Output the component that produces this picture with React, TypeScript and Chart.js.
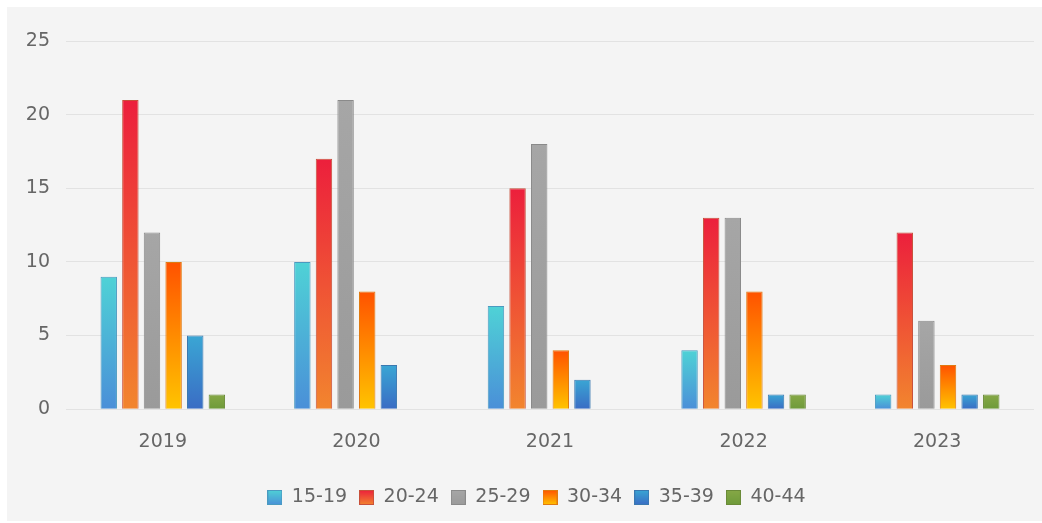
import React, { useEffect, useRef } from "react";
import { Chart, registerables } from "chart.js";

Chart.register(...registerables);

const categories = ["2019", "2020", "2021", "2022", "2023"];
const seriesLabels = ["15-19", "20-24", "25-29", "30-34", "35-39", "40-44"];
const s15_19 = [9, 10, 7, 4, 1];
const s20_24 = [21, 17, 15, 13, 12];
const s25_29 = [12, 21, 18, 13, 6];
const s30_34 = [10, 8, 4, 8, 3];
const s35_39 = [5, 3, 2, 1, 1];
const s40_44 = [1, 0, 0, 1, 1];
const yTicks = [0, 5, 10, 15, 20, 25];

// [top colour, bottom colour, border]
const palette: [string, string, string][] = [
  ["#4fd2d6", "#4a8fd8", "#4a9ac0"],
  ["#ec1f3c", "#f2852e", "#c8503a"],
  ["#a6a6a6", "#9a9a9a", "#8a8a8a"],
  ["#ff5200", "#ffc400", "#e07a10"],
  ["#3aa6d4", "#3a6cc4", "#3a78b0"],
  ["#86a846", "#6e9a3a", "#6a8a38"],
];

const ICON = 15;

function legendIcon(i: number): HTMLCanvasElement {
  const c = document.createElement("canvas");
  c.width = ICON;
  c.height = ICON;
  const ctx = c.getContext("2d")!;
  const g = ctx.createLinearGradient(0, 0, 0, ICON);
  g.addColorStop(0, palette[i][0]);
  g.addColorStop(1, palette[i][1]);
  ctx.fillStyle = g;
  ctx.fillRect(0, 0, ICON, ICON);
  ctx.strokeStyle = palette[i][2];
  ctx.lineWidth = 1;
  ctx.strokeRect(0.5, 0.5, ICON - 1, ICON - 1);
  return c;
}

const legendShift = {
  id: "legendShift",
  afterLayout(chart: any) {
    const l = chart.legend;
    if (l) {
      l.left += 16;
      l.right += 16;
    }
  },
};

export default function App() {
  const ref = useRef<HTMLCanvasElement | null>(null);

  useEffect(() => {
    document.body.style.margin = "0";
    const canvas = ref.current!;
    const allData = [s15_19, s20_24, s25_29, s30_34, s35_39, s40_44];
    const icons = seriesLabels.map((_, i) => legendIcon(i));

    const datasets = seriesLabels.map((label, i) => ({
      label,
      data: allData[i],
      borderColor: palette[i][2],
      borderWidth: 1,
      backgroundColor: (ctx: any) => {
        const chart = ctx.chart;
        const ys = chart.scales?.y;
        if (!chart.chartArea || !ys || ctx.type !== "data") return palette[i][0];
        const v = ctx.raw as number;
        const top = ys.getPixelForValue(v);
        const bottom = ys.getPixelForValue(0);
        if (!(bottom > top)) return palette[i][0];
        const g = chart.ctx.createLinearGradient(0, top, 0, bottom);
        g.addColorStop(0, palette[i][0]);
        g.addColorStop(1, palette[i][1]);
        return g;
      },
      pointStyle: icons[i],
      categoryPercentage: 0.67,
      barPercentage: 0.76,
    }));

    const chart = new Chart(canvas, {
      type: "bar",
      data: { labels: categories, datasets },
      plugins: [legendShift],
      options: {
        animation: false,
        responsive: false,
        layout: { padding: { top: 34, right: 8, bottom: 4, left: 0 } },
        plugins: {
          title: { display: false },
          tooltip: { enabled: false },
          legend: {
            position: "bottom",
            labels: {
              usePointStyle: true,
              boxWidth: ICON,
              boxHeight: ICON,
              padding: 12,
              color: "#666",
              font: { family: "DejaVu Sans", size: 19 },
            },
          },
        },
        scales: {
          x: {
            grid: { display: false },
            border: { display: false },
            afterFit: (scale: any) => {
              scale.height += 10;
            },
            ticks: {
              color: "#666",
              padding: 13,
              font: { family: "DejaVu Sans", size: 19 },
            },
          },
          y: {
            min: 0,
            max: 25,
            afterBuildTicks: (scale: any) => {
              scale.ticks = yTicks.map((v) => ({ value: v }));
            },
            afterFit: (scale: any) => {
              scale.width = 59;
            },
            grid: { color: "#e2e2e2", drawTicks: false, lineWidth: 1 },
            border: { display: false },
            ticks: {
              color: "#666",
              padding: 16,
              font: { family: "DejaVu Sans", size: 19 },
            },
          },
        },
      },
    });
    return () => chart.destroy();
  }, []);

  return (
    <div style={{ position: "relative", width: 1042, height: 523, background: "#fff" }}>
      <div
        style={{
          position: "absolute",
          left: 7,
          top: 7,
          width: 1035,
          height: 514,
          background: "#f4f4f4",
        }}
      >
        <canvas ref={ref} width={1035} height={514} style={{ display: "block" }} />
      </div>
    </div>
  );
}
